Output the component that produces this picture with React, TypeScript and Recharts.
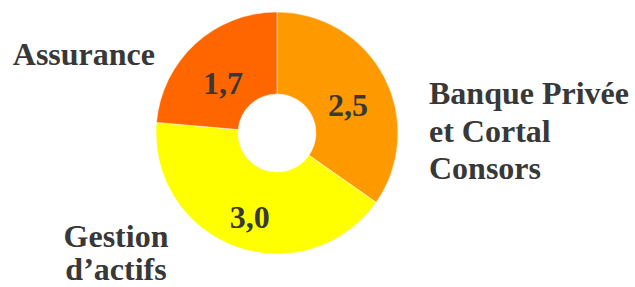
import React from 'react';
import { PieChart, Pie, Cell } from 'recharts';

// Répartition par métier (valeurs en milliards)
const categories = ['Banque Privée et Cortal Consors', "Gestion d'actifs", 'Assurance'];
const values = [2.5, 3.0, 1.7];
const valueLabels = ['2,5', '3,0', '1,7'];
const nameLines = [
    ['Banque Privée', 'et Cortal', 'Consors'],
    ['Gestion', 'd\u2019actifs'],
    ['Assurance'],
];

const COLORS = ['#ff9900', '#ffff00', '#ff6600'];
const TEXT = '#383838';
const FONT = '"Liberation Serif", "Times New Roman", serif';
const FONT_SIZE = 32;

// where each category name sits, relative to the pie centre
const NAME_LAYOUT = [
    { dx: 152, dy: -29, anchor: 'start', lh: 37.5 },
    { dx: -161, dy: 114, anchor: 'middle', lh: 33 },
    { dx: -122, dy: -68, anchor: 'end', lh: 36 },
];

const data = categories.map((name, i) => ({ name, value: values[i] }));

const RAD = Math.PI / 180;

const renderLabel = (props: any) => {
    const { cx, cy, midAngle, innerRadius, outerRadius, index } = props;
    const r = (innerRadius + outerRadius) / 2;
    const x = cx + r * Math.cos(-midAngle * RAD);
    const y = cy + r * Math.sin(-midAngle * RAD) + 9;
    const pos = NAME_LAYOUT[index];
    return (
        <g key={`lbl-${index}`}>
            <text x={x} y={y} textAnchor="middle" dominantBaseline="central"
                fill={TEXT} fontFamily={FONT} fontSize={FONT_SIZE} fontWeight="bold">
                {valueLabels[index]}
            </text>
            <text x={cx + pos.dx} y={cy + pos.dy} textAnchor={pos.anchor}
                fill={TEXT} fontFamily={FONT} fontSize={FONT_SIZE} fontWeight="bold">
                {nameLines[index].map((line, j) => (
                    <tspan key={j} x={cx + pos.dx} dy={j === 0 ? 0 : pos.lh}>{line}</tspan>
                ))}
            </text>
        </g>
    );
};

export default function App() {
    return (
        <div style={{ position: 'absolute', left: 0, top: 0, width: 635, height: 287, background: '#fff' }}>
            <PieChart width={635} height={287} margin={{ top: 0, right: 0, bottom: 0, left: 0 }}>
                <Pie
                    data={data}
                    dataKey="value"
                    nameKey="name"
                    cx={277}
                    cy={133}
                    innerRadius={39}
                    outerRadius={121}
                    startAngle={90}
                    endAngle={-270}
                    stroke="#ffffff"
                    strokeWidth={0.5}
                    label={renderLabel}
                    labelLine={false}
                    isAnimationActive={false}
                >
                    {data.map((entry, index) => (
                        <Cell key={`cell-${index}`} fill={COLORS[index % COLORS.length]} />
                    ))}
                </Pie>
            </PieChart>
        </div>
    );
}
